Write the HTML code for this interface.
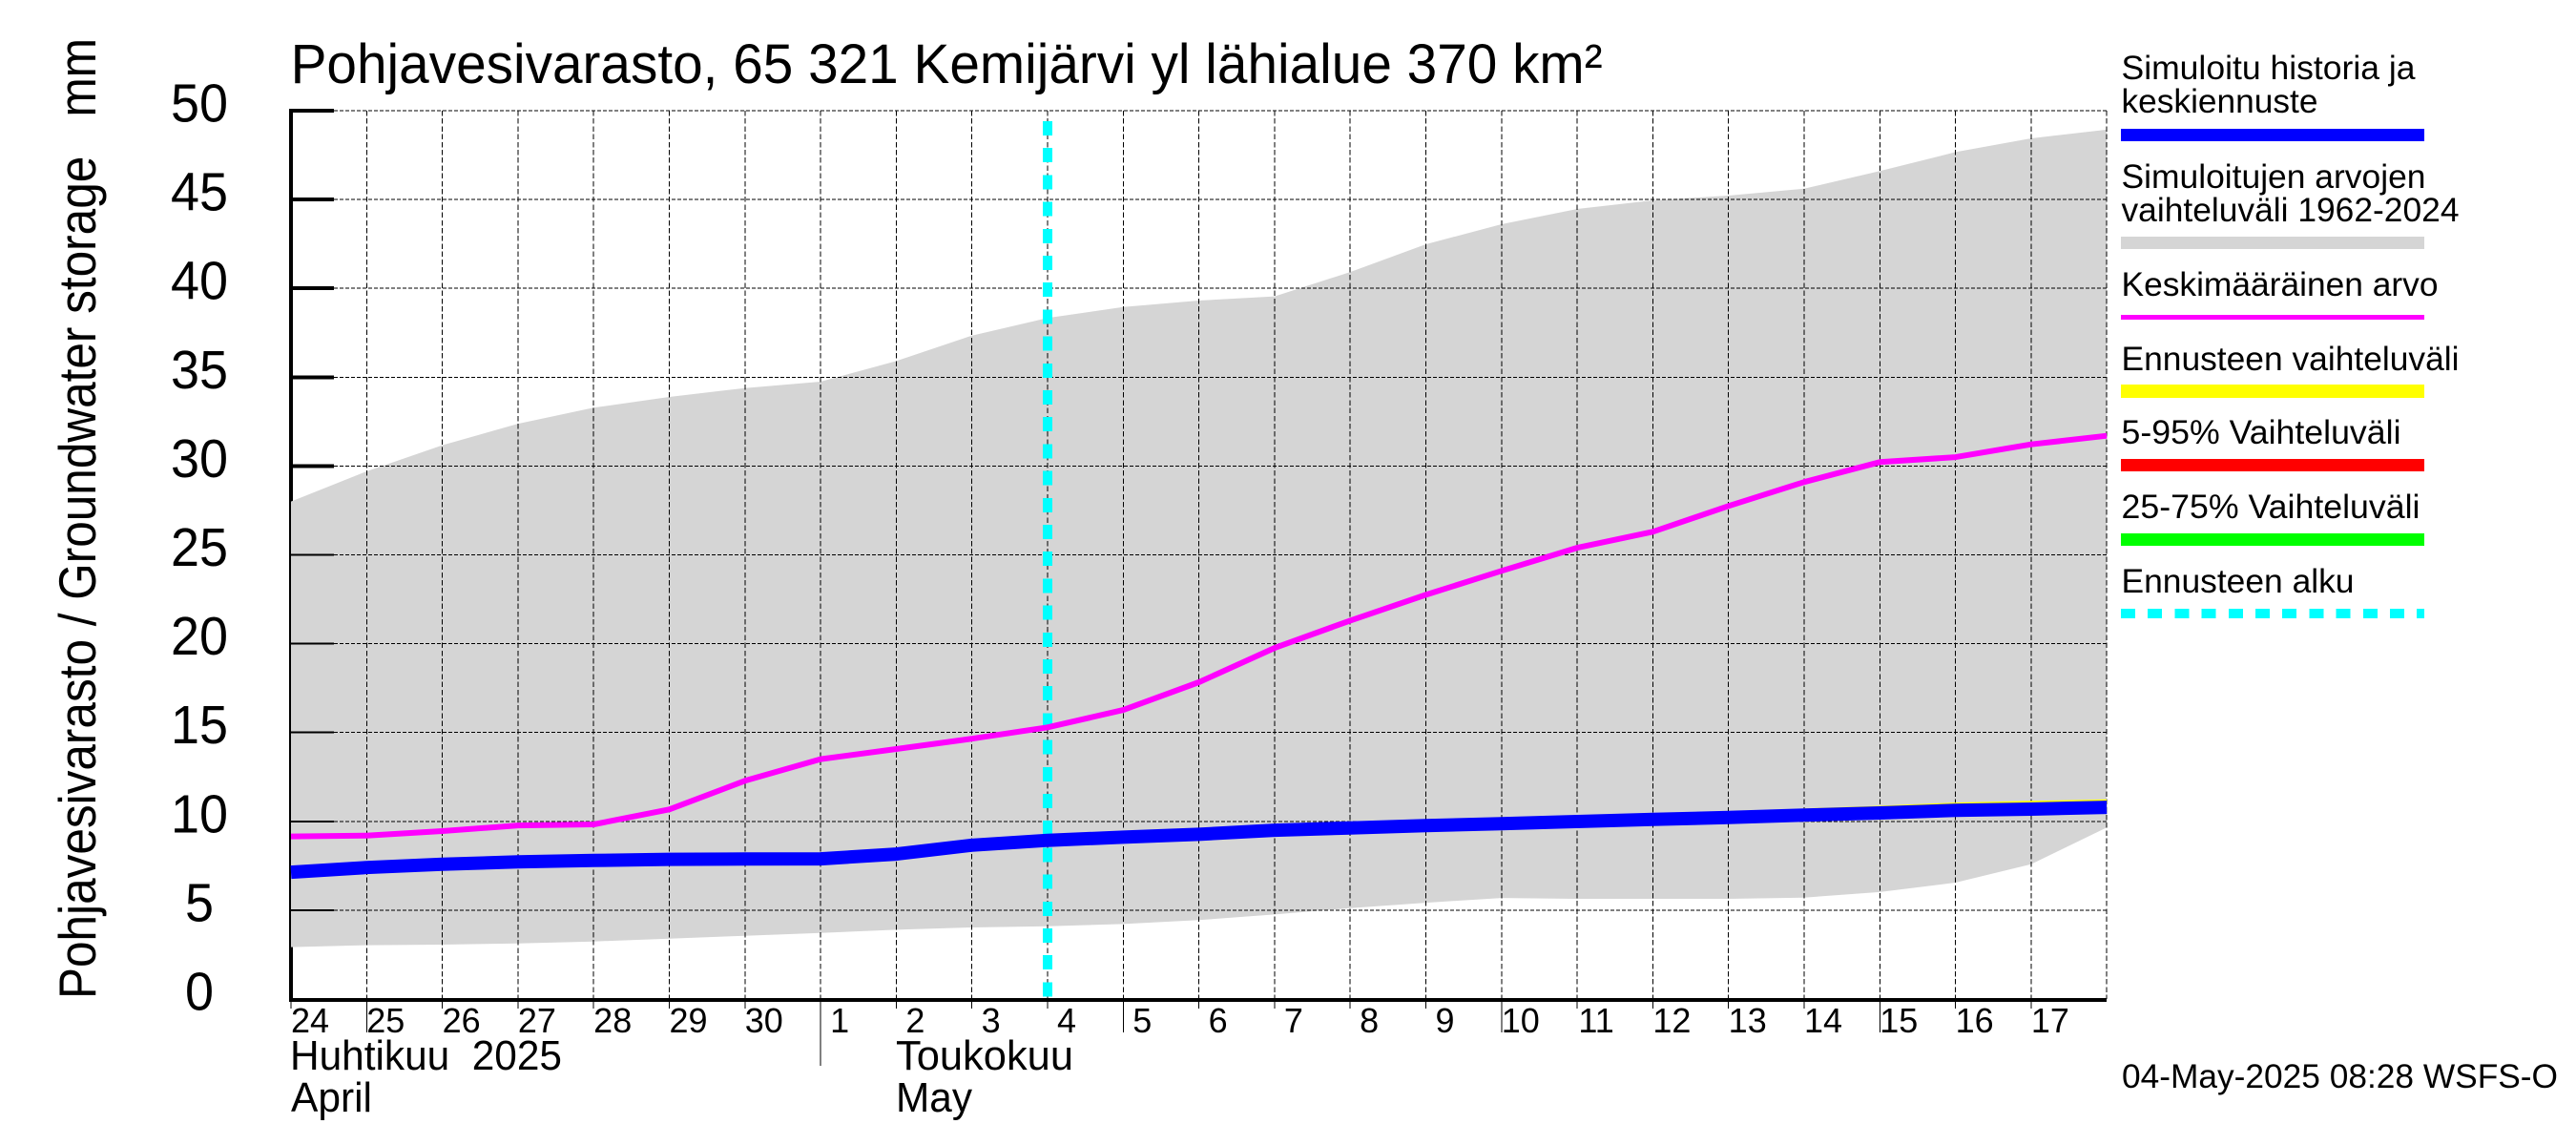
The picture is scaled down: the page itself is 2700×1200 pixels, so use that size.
<!DOCTYPE html>
<html lang="fi">
<head>
<meta charset="utf-8">
<title>Pohjavesivarasto, 65 321 Kemijärvi yl lähialue</title>
<style>
html,body{margin:0;padding:0;background:#fff;width:2700px;height:1200px;overflow:hidden}
svg{display:block}
text{font-family:"Liberation Sans",Arial,sans-serif;fill:#000;white-space:pre}
</style>
</head>
<body>
<svg id="chart" xmlns="http://www.w3.org/2000/svg" width="2700" height="1200" viewBox="0 0 2700 1200">
  <rect x="0" y="0" width="2700" height="1200" fill="#ffffff"/>
  <g id="axis-under"></g>
  <g id="band"></g>
  <g id="grid"></g>
  <g id="series"></g>
  <g id="axis-over"></g>
  <g id="labels"></g>

  <text x="304.6" y="87" font-size="58" textLength="1375" lengthAdjust="spacingAndGlyphs">Pohjavesivarasto, 65 321 Kemijärvi yl lähialue 370 km²</text>
  <text transform="translate(100,1047) rotate(-90)" x="0" y="0" font-size="55" textLength="1007" lengthAdjust="spacingAndGlyphs">Pohjavesivarasto / Groundwater storage   mm</text>

  <text x="304" y="1121" font-size="44" textLength="285" lengthAdjust="spacingAndGlyphs">Huhtikuu  2025</text>
  <text x="305" y="1165" font-size="44" textLength="85" lengthAdjust="spacingAndGlyphs">April</text>
  <text x="939" y="1121" font-size="44" textLength="186" lengthAdjust="spacingAndGlyphs">Toukokuu</text>
  <text x="939" y="1165" font-size="44" textLength="80" lengthAdjust="spacingAndGlyphs">May</text>

  <g>
    <text x="2223.5" y="83" font-size="35.5" textLength="308" lengthAdjust="spacingAndGlyphs">Simuloitu historia ja</text>
    <text x="2223.5" y="118" font-size="35.5" textLength="206" lengthAdjust="spacingAndGlyphs">keskiennuste</text>
    <rect x="2223" y="135" width="318" height="13" fill="#0000ff"/>
    <text x="2223.5" y="197" font-size="35.5" textLength="319" lengthAdjust="spacingAndGlyphs">Simuloitujen arvojen</text>
    <text x="2223.5" y="232" font-size="35.5" textLength="354" lengthAdjust="spacingAndGlyphs">vaihteluväli 1962-2024</text>
    <rect x="2223" y="248" width="318" height="13" fill="#d5d5d5"/>
    <text x="2223.5" y="310" font-size="35.5" textLength="332" lengthAdjust="spacingAndGlyphs">Keskimääräinen arvo</text>
    <rect x="2223" y="330" width="318" height="5" fill="#ff00ff"/>
    <text x="2223.5" y="388" font-size="35.5" textLength="354" lengthAdjust="spacingAndGlyphs">Ennusteen vaihteluväli</text>
    <rect x="2223" y="403" width="318" height="14" fill="#ffff00"/>
    <text x="2223.5" y="465" font-size="35.5" textLength="293" lengthAdjust="spacingAndGlyphs">5-95% Vaihteluväli</text>
    <rect x="2223" y="481" width="318" height="13" fill="#ff0000"/>
    <text x="2223.5" y="543" font-size="35.5" textLength="313" lengthAdjust="spacingAndGlyphs">25-75% Vaihteluväli</text>
    <rect x="2223" y="559" width="318" height="13" fill="#00ff00"/>
    <text x="2223.5" y="621" font-size="35.5" textLength="244" lengthAdjust="spacingAndGlyphs">Ennusteen alku</text>
    <line x1="2223" y1="643" x2="2541" y2="643" stroke="#00ffff" stroke-width="10" stroke-dasharray="15 13.2" shape-rendering="crispEdges"/>
  </g>
  <text x="2224" y="1140" font-size="35.5" textLength="457" lengthAdjust="spacingAndGlyphs">04-May-2025 08:28 WSFS-O</text>
</svg>

<script>
var dayLabels = ['24','25','26','27','28','29','30','1','2','3','4','5','6','7','8','9','10','11','12','13','14','15','16','17'];
var yTicks = [0,5,10,15,20,25,30,35,40,45,50];
var longTickDays = [1,11,16,21];
var monthBoundaryDays = [7];
var forecastStartDay = [10];

var rangeUpper = [28.0,29.7,31.17,32.38,33.28,33.89,34.39,34.75,35.91,37.34,38.33,38.95,39.31,39.55,40.92,42.48,43.61,44.47,44.95,45.22,45.61,46.6,47.67,48.44,48.93];
var rangeLower = [2.92,3.03,3.06,3.13,3.24,3.4,3.56,3.72,3.9,4.03,4.1,4.22,4.44,4.76,5.12,5.42,5.69,5.64,5.64,5.64,5.71,6.02,6.55,7.59,9.65];
var meanValues = [9.15,9.2,9.45,9.77,9.83,10.67,12.28,13.5,14.07,14.65,15.29,16.27,17.83,19.76,21.3,22.75,24.1,25.4,26.3,27.75,29.1,30.22,30.5,31.22,31.7];
var historyValues = [7.14,7.4,7.59,7.72,7.8,7.86,7.88,7.89,8.16,8.66,8.93,9.11,9.27,9.5,9.63,9.76,9.87,9.99,10.11,10.22,10.35,10.47,10.62,10.69,10.79];
var forecastUpperDays = [20,21,22,23,24];
var forecastUpperValues = [10.35,10.5,10.68,10.78,10.86];

var NS = 'http://www.w3.org/2000/svg';
var plotLeft = 305, dayWidth = 79.3, plotBottom = 1047, unitHeight = 18.62;
function xScale(day){ return plotLeft + day * dayWidth; }
function yScale(v){ return plotBottom - v * unitHeight; }
var plotRight = xScale(dayLabels.length);
var plotTop = yScale(50);

function makeLine(parent, x1, y1, x2, y2, color, width, dash){
  var el = document.createElementNS(NS, 'line');
  el.setAttribute('x1', x1);
  el.setAttribute('y1', y1);
  el.setAttribute('x2', x2);
  el.setAttribute('y2', y2);
  el.setAttribute('stroke', color);
  el.setAttribute('stroke-width', width);
  if (dash) el.setAttribute('stroke-dasharray', dash);
  el.setAttribute('shape-rendering', 'crispEdges');
  parent.appendChild(el);
  return el;
}
function pointsFor(days, values){
  return values.map(function(v, i){ return xScale(days ? days[i] : i).toFixed(1) + ',' + yScale(v).toFixed(1); });
}
function makePolyline(parent, days, values, color, width){
  var el = document.createElementNS(NS, 'polyline');
  el.setAttribute('points', pointsFor(days, values).join(' '));
  el.setAttribute('fill', 'none');
  el.setAttribute('stroke', color);
  el.setAttribute('stroke-width', width);
  el.setAttribute('stroke-linejoin', 'round');
  parent.appendChild(el);
  return el;
}
function makeText(parent, x, y, size, content){
  var el = document.createElementNS(NS, 'text');
  el.setAttribute('x', x);
  el.setAttribute('y', y);
  el.setAttribute('font-size', size);
  el.setAttribute('text-anchor', 'middle');
  el.textContent = content;
  parent.appendChild(el);
  return el;
}

var axisUnder = document.getElementById('axis-under');
var bandGroup = document.getElementById('band');
var gridGroup = document.getElementById('grid');
var seriesGroup = document.getElementById('series');
var axisOver = document.getElementById('axis-over');
var labelGroup = document.getElementById('labels');

var yAxisLine = makeLine(axisUnder, plotLeft, plotTop - 2, plotLeft, plotBottom + 3, '#000', 4);



yTicks.forEach(function(v){
  if (v === 0) return;
  var thick = makeLine(axisUnder, plotLeft, yScale(v), plotLeft + 45, yScale(v), '#000', 4);
  
  
});

var bandPoly = document.createElementNS(NS, 'polygon');
bandPoly.setAttribute('points', pointsFor(null, rangeUpper).concat(pointsFor(null, rangeLower).reverse()).join(' '));
bandPoly.setAttribute('fill', '#d5d5d5');


bandGroup.appendChild(bandPoly);

yTicks.forEach(function(v){
  if (v === 0) return;
  var tickThin = makeLine(gridGroup, plotLeft, yScale(v), plotLeft + 45, yScale(v), '#000', 2);
  
  
  var gridH = makeLine(gridGroup, plotLeft + 45, yScale(v), plotRight, yScale(v), '#000', 1, '4 2');
  
  
});
for (var d = 1; d <= dayLabels.length; d++) {
  var gridV = makeLine(gridGroup, xScale(d), plotTop, xScale(d), plotBottom, '#000', 1, '5.5 2.7');
  
  
}

var forecastLine = makeLine(seriesGroup, xScale(forecastStartDay[0]), 127, xScale(forecastStartDay[0]), plotBottom, '#00ffff', 10, '15 13.2');



var meanLine = makePolyline(seriesGroup, null, meanValues, '#ff00ff', 6);



var yellowLine = makePolyline(seriesGroup, forecastUpperDays, forecastUpperValues, '#ffff00', 14);



var historyLine = makePolyline(seriesGroup, null, historyValues, '#0000ff', 14);



var xAxisLine = makeLine(axisOver, plotLeft - 2, plotBottom + 1, plotRight, plotBottom + 1, '#000', 4);



dayLabels.forEach(function(label, i){
  var tickEnd = 1057;
  if (longTickDays.indexOf(i) >= 0) tickEnd = 1082;
  if (monthBoundaryDays.indexOf(i) >= 0) tickEnd = 1117;
  var tick = makeLine(axisOver, xScale(i), plotBottom + 3, xScale(i), tickEnd, '#000', 1);
  
  
  var text = makeText(labelGroup, xScale(i) + 20, 1082, 36, label);
  
  
});

yTicks.forEach(function(v){
  var text = makeText(labelGroup, 209, yScale(v) + 11.5, 57, String(v));
  text.setAttribute('textLength', String(v).length * 30);
  text.setAttribute('lengthAdjust', 'spacingAndGlyphs');
  
  
});
</script>
</body>
</html>
